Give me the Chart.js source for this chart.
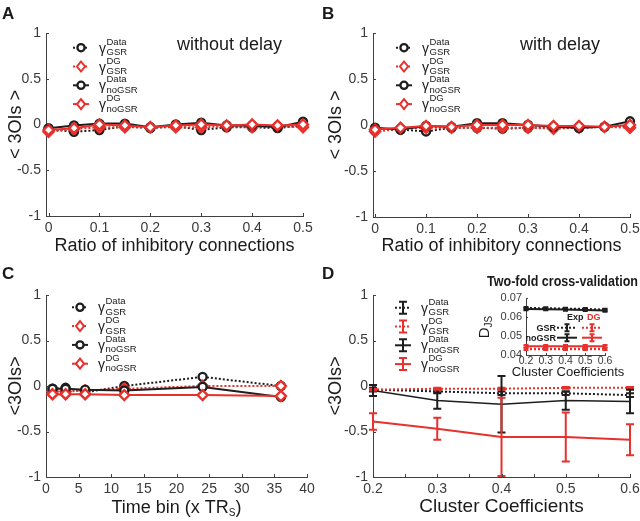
<!DOCTYPE html>
<html>
<head>
<meta charset="utf-8">
<script src="https://cdn.jsdelivr.net/npm/chart.js@4/dist/chart.umd.min.js"></script>
<style>
    body { margin: 0; background: #fff; width: 640px; height: 521px; overflow: hidden; position: relative; }
    .panel { position: absolute; }
    canvas { display: block; }
</style>
</head>
<body>
<div class="panel" style="left:0;top:0"><canvas id="chartA" width="320" height="260"></canvas></div>
<div class="panel" style="left:320px;top:0"><canvas id="chartB" width="340" height="260"></canvas></div>
<div class="panel" style="left:0;top:260px"><canvas id="chartC" width="320" height="261"></canvas></div>
<div class="panel" style="left:320px;top:260px"><canvas id="chartD" width="340" height="261"></canvas></div>
<div class="panel" style="left:470px;top:266px"><canvas id="chartInset" width="170" height="116"></canvas></div>

<script>
// --- Data ---
const ratioX     = [0, 0.05, 0.1, 0.15, 0.2, 0.25, 0.3, 0.35, 0.4, 0.45, 0.5];
const ratioTicks = [0, 0.1, 0.2, 0.3, 0.4, 0.5];
const yTicks     = [-1, -0.5, 0, 0.5, 1];

// A: without delay
const aGsrData   = [-0.05, -0.08, -0.06, -0.02, -0.04, -0.02, -0.06, -0.03, -0.03, -0.04, -0.01];
const aGsrDG     = [-0.08, -0.05, -0.03, -0.03, -0.03, -0.03, -0.03, -0.02, -0.03, -0.02, -0.03];
const aNoGsrData = [-0.04, -0.01, 0.01, 0.01, -0.03, 0.0, 0.02, -0.01, -0.01, -0.03, 0.03];
const aNoGsrDG   = [-0.06, -0.04, 0.0, -0.01, -0.03, -0.01, 0.0, -0.01, 0.0, -0.01, 0.0];

// B: with delay
const bGsrData   = [-0.06, -0.05, -0.07, -0.03, -0.03, -0.04, -0.03, -0.03, -0.03, -0.02, -0.01];
const bGsrDG     = [-0.07, -0.04, -0.03, -0.03, -0.03, -0.03, -0.03, -0.04, -0.03, -0.02, -0.03];
const bNoGsrData = [-0.03, -0.05, -0.01, -0.02, 0.02, 0.02, 0.0, -0.02, -0.03, -0.02, 0.04];
const bNoGsrDG   = [-0.05, -0.03, -0.01, -0.02, 0.0, 0.0, 0.0, -0.01, -0.01, -0.02, 0.0];

// C: time bins
const timeBins   = [1, 3, 6, 12, 24, 36];
const timeTicks  = [0, 5, 10, 15, 20, 25, 30, 35, 40];
const cGsrData   = [-0.03, -0.02, -0.07, 0.0, 0.1, 0.0];
const cGsrDG     = [-0.06, -0.06, -0.05, -0.03, 0.0, 0.0];
const cNoGsrData = [-0.03, -0.03, -0.04, -0.05, -0.01, -0.12];
const cNoGsrDG   = [-0.09, -0.09, -0.09, -0.1, -0.1, -0.11];

// D: cluster coefficients (mean and error)
const clusterX      = [0.2, 0.3, 0.4, 0.5, 0.6];
const clusterMinor  = [0.25, 0.35, 0.45, 0.55];
const dGsrData      = [-0.04, -0.06, -0.08, -0.08, -0.1];
const dGsrDataErr   = [0.02, 0.02, 0.02, 0.02, 0.02];
const dGsrDG        = [-0.04, -0.03, -0.03, -0.02, -0.02];
const dGsrDGErr     = [0.01, 0.01, 0.01, 0.01, 0.01];
const dNoGsrData    = [-0.05, -0.16, -0.2, -0.16, -0.17];
const dNoGsrDataErr = [0.06, 0.09, 0.31, 0.1, 0.13];
const dNoGsrDG      = [-0.39, -0.47, -0.56, -0.56, -0.59];
const dNoGsrDGErr   = [0.09, 0.12, 0.43, 0.27, 0.17];

// D inset: two-fold cross-validation
const insetYTicks   = [0.04, 0.05, 0.06, 0.07];
const insetGsrExp   = [0.0646, 0.0645, 0.0643, 0.0641, 0.0638];
const insetNoGsrExp = [0.0642, 0.0641, 0.0639, 0.0637, 0.0634];
const insetGsrDG    = [0.0432, 0.0432, 0.0432, 0.0432, 0.0432];
const insetNoGsrDG  = [0.0446, 0.0446, 0.0446, 0.0446, 0.0446];
const insetErr      = [0.0006, 0.0006, 0.0006, 0.0006, 0.0006];

const gammaItems = [
    { color: 'black', dotted: true,  marker: 'circle',  sup: 'Data', sub: 'GSR' },
    { color: 'red',   dotted: true,  marker: 'diamond', sup: 'DG',   sub: 'GSR' },
    { color: 'black', dotted: false, marker: 'circle',  sup: 'Data', sub: 'noGSR' },
    { color: 'red',   dotted: false, marker: 'diamond', sup: 'DG',   sub: 'noGSR' }
];

// --- Styles ---
const FONT  = "'Liberation Sans', Arial, Helvetica, sans-serif";
const RED   = '#e8302c';
const BLACK = '#1e1e1e';
const AXIS  = '#404040';
const TICK  = '#3a3a3a';
const TEXT  = '#1a1a1a';
const COLORS = { red: RED, black: BLACK };

// --- Helpers ---
function drawMarker(ctx, kind, x, y, color, h, c) {
    ctx.save();
    ctx.strokeStyle = color;
    ctx.lineWidth = 2;
    ctx.fillStyle = '#fff';
    ctx.setLineDash([]);
    ctx.beginPath();
    if (kind === 'circle') {
        ctx.lineWidth = 2.3;
        ctx.arc(x, y, 3.6, 0, Math.PI * 2);
        ctx.fill();
    } else if (kind === 'diamond') {
        ctx.moveTo(x, y - 5); ctx.lineTo(x + 4, y); ctx.lineTo(x, y + 5); ctx.lineTo(x - 4, y);
        ctx.closePath();
        ctx.fill();
    } else {
        ctx.moveTo(x, y - h); ctx.lineTo(x, y + h);
        ctx.moveTo(x - c, y - h); ctx.lineTo(x + c, y - h);
        ctx.moveTo(x - c, y + h); ctx.lineTo(x + c, y + h);
    }
    ctx.stroke();
    ctx.restore();
}

function series(xs, ys, o) {
    return {
        data: xs.map((x, i) => ({ x, y: ys[i] })),
        borderColor: o.color,
        borderWidth: o.width || 2,
        borderDash: o.dotted ? [2, 2] : [],
        pointStyle: o.marker === 'diamond' ? 'rectRot' : 'circle',
        pointRadius: o.marker ? (o.marker === 'diamond' ? 5 : 4) : 0,
        pointBorderWidth: 2.4,
        pointBorderColor: o.color,
        pointBackgroundColor: '#fff',
        errors: o.errors,
        capHalf: o.capHalf || 4,
        order: o.order,
        tension: 0,
        fill: false,
        clip: false
    };
}

function fourSeries(xs, gsrData, gsrDG, noGsrData, noGsrDG) {
    return [
        series(xs, gsrData,   { color: BLACK, dotted: true,  marker: 'circle',  order: 3 }),
        series(xs, gsrDG,     { color: RED,   dotted: true,  marker: 'diamond', order: 2 }),
        series(xs, noGsrData, { color: BLACK, dotted: false, marker: 'circle',  order: 1 }),
        series(xs, noGsrDG,   { color: RED,   dotted: false, marker: 'diamond', order: 0 })
    ];
}

function xAxis(min, max, ticks, title, height, fontSize, titleSize, pad) {
    return {
        type: 'linear', min, max,
        afterBuildTicks: s => { s.ticks = ticks.map(v => ({ value: v })); },
        grid: { display: false, drawTicks: false },
        border: { display: true, color: AXIS, width: 1 },
        ticks: {
            color: TICK, padding: pad, autoSkip: false, maxRotation: 0,
            font: { family: FONT, size: fontSize },
            callback: v => String(v)
        },
        title: {
            display: !!title, text: title, color: TEXT,
            font: { family: FONT, size: titleSize }, padding: { top: 0, bottom: 3 }
        },
        afterFit: s => { s.height = height; }
    };
}

function yAxis(title, width) {
    return {
        min: -1, max: 1,
        afterBuildTicks: s => { s.ticks = yTicks.map(v => ({ value: v })); },
        grid: { display: false, drawTicks: false },
        border: { display: true, color: AXIS, width: 1 },
        ticks: { color: TICK, padding: 5, font: { family: FONT, size: 14 }, callback: v => String(v) },
        title: {
            display: true, text: title, color: TEXT,
            font: { family: FONT, size: 18 }, padding: { top: 5, bottom: 0 }
        },
        afterFit: s => { s.width = width; }
    };
}

// --- Plugins ---
const errorBars = {
    id: 'errorBars',
    afterDatasetsDraw(chart) {
        const ctx = chart.ctx;
        const xs = chart.scales.x, ys = chart.scales.y;
        chart.data.datasets.forEach(ds => {
            if (!ds.errors) return;
            ds.data.forEach((p, j) => {
                const px = xs.getPixelForValue(p.x);
                const py = ys.getPixelForValue(p.y);
                const top = ys.getPixelForValue(p.y + ds.errors[j]);
                drawMarker(ctx, 'err', px, py, ds.borderColor, py - top, ds.capHalf);
            });
        });
    }
};

const inTicks = {
    id: 'inTicks',
    afterDraw(chart, args, o) {
        const { ctx, chartArea: a, scales } = chart;
        const len = o.len || 3;
        ctx.save();
        ctx.strokeStyle = AXIS;
        ctx.lineWidth = 1;
        ctx.beginPath();
        const xv = scales.x.ticks.map(t => t.value).concat(o.xMinor || []);
        xv.forEach(v => {
            const px = Math.round(scales.x.getPixelForValue(v)) + 0.5;
            ctx.moveTo(px, a.bottom); ctx.lineTo(px, a.bottom - len);
        });
        scales.y.ticks.forEach(t => {
            const py = Math.round(scales.y.getPixelForValue(t.value)) + 0.5;
            ctx.moveTo(a.left, py); ctx.lineTo(a.left + len, py);
        });
        ctx.stroke();
        ctx.restore();
    }
};

const gammaLegend = {
    id: 'gammaLegend',
    afterDraw(chart, args, o) {
        if (!o.items) return;
        const ctx = chart.ctx;
        o.items.forEach((it, i) => {
            const y = o.y + i * o.gap;
            const color = COLORS[it.color];
            ctx.save();
            ctx.strokeStyle = color;
            ctx.lineWidth = 2;
            ctx.setLineDash(it.dotted ? [2, 2] : []);
            ctx.beginPath(); ctx.moveTo(o.x, y); ctx.lineTo(o.x + 16, y); ctx.stroke();
            drawMarker(ctx, o.marker || it.marker, o.x + 8, y, color, 6, 4);
            ctx.fillStyle = TEXT;
            ctx.textAlign = 'left';
            ctx.font = '14px ' + FONT;
            ctx.fillText('γ', o.x + 26, y + 5);
            ctx.font = '9.5px ' + FONT;
            ctx.fillText(it.sup, o.x + 33.5, y - 3);
            ctx.fillText(it.sub, o.x + 33.5, y + 7.5);
            ctx.restore();
        });
    }
};

const annotate = {
    id: 'annotate',
    afterDraw(chart, args, o) {
        const ctx = chart.ctx;
        (o.items || []).forEach(it => {
            const parts = it.parts || [{ text: it.text, font: it.font, color: it.color }];
            ctx.save();
            ctx.translate(it.x, it.y);
            if (it.rotate) ctx.rotate(it.rotate);
            ctx.textBaseline = 'alphabetic';
            ctx.textAlign = 'left';
            let w = 0;
            parts.forEach(p => { ctx.font = p.font; w += ctx.measureText(p.text).width; });
            if (it.maxWidth && w > it.maxWidth) {
                ctx.scale(it.maxWidth / w, 1);
            }
            let x = it.align === 'center' ? -w / 2 : it.align === 'right' ? -w : 0;
            parts.forEach(p => {
                ctx.font = p.font;
                ctx.fillStyle = p.color || TEXT;
                ctx.fillText(p.text, x, p.dy || 0);
                x += ctx.measureText(p.text).width;
            });
            ctx.restore();
        });
    }
};

const insetLegend = {
    id: 'insetLegend',
    afterDraw(chart, args, o) {
        if (!o.rows) return;
        const ctx = chart.ctx;
        o.rows.forEach(r => {
            [[r.x1, BLACK], [r.x2, RED]].forEach(([x0, color]) => {
                ctx.save();
                ctx.strokeStyle = color;
                ctx.lineWidth = 2;
                ctx.setLineDash(r.dotted ? [2, 2] : []);
                ctx.beginPath(); ctx.moveTo(x0, r.y); ctx.lineTo(x0 + 20, r.y); ctx.stroke();
                ctx.restore();
                drawMarker(ctx, 'err', x0 + 10, r.y, color, 3.5, 2.5);
            });
        });
    }
};

function panelChart(id, cfg) {
    return new Chart(document.getElementById(id), {
        type: 'line',
        data: { datasets: cfg.datasets },
        options: {
            responsive: false,
            animation: false,
            events: [],
            layout: { padding: cfg.padding },
            plugins: {
                legend: { display: false },
                tooltip: { enabled: false },
                gammaLegend: cfg.legend || {},
                annotate: { items: cfg.texts || [] },
                inTicks: cfg.ticks || {},
                insetLegend: cfg.insetLegend || {}
            },
            scales: { x: cfg.x, y: cfg.y }
        },
        plugins: [errorBars, inTicks, gammaLegend, annotate, insetLegend]
    });
}

const letterFont = 'bold 17px ' + FONT;

// --- Panel A ---
panelChart('chartA', {
    datasets: fourSeries(ratioX, aGsrData, aGsrDG, aNoGsrData, aNoGsrDG),
    padding: { left: 0, top: 33, right: 17, bottom: 0 },
    x: xAxis(-0.005, 0.5, ratioTicks, 'Ratio of inhibitory connections', 44, 14, 18, 4),
    y: yAxis('< 3OIs >', 46),
    legend: { x: 73, y: 47.7, gap: 18.8, items: gammaItems },
    texts: [
        { text: 'A', font: letterFont, x: 2, y: 19 },
        { text: 'without delay', font: '18px ' + FONT, x: 177, y: 50 }
    ]
});

// --- Panel B (canvas extends past the page edge so the last label keeps its spot) ---
panelChart('chartB', {
    datasets: fourSeries(ratioX, bGsrData, bGsrDG, bNoGsrData, bNoGsrDG),
    padding: { left: 0, top: 33, right: 30, bottom: 0 },
    x: xAxis(-0.004, 0.5, ratioTicks, 'Ratio of inhibitory connections', 43, 14, 18, 4),
    y: yAxis('< 3OIs >', 53),
    legend: { x: 76, y: 47.7, gap: 18.8, items: gammaItems },
    texts: [
        { text: 'B', font: letterFont, x: 2, y: 19 },
        { text: 'with delay', font: '18px ' + FONT, x: 200, y: 50 }
    ]
});

// --- Panel C ---
panelChart('chartC', {
    datasets: fourSeries(timeBins, cGsrData, cGsrDG, cNoGsrData, cNoGsrDG),
    padding: { left: 0, top: 35, right: 13, bottom: 0 },
    x: xAxis(0, 40, timeTicks, '', 44, 14, 18, 4),
    y: yAxis('<3OIs>', 46),
    legend: { x: 72, y: 47.3, gap: 18.8, items: gammaItems },
    texts: [
        { text: 'C', font: letterFont, x: 2, y: 19 },
        {
            x: 176.5, y: 253, align: 'center',
            parts: [
                { text: 'Time bin (x TR', font: '18px ' + FONT },
                { text: 'S', font: '10px ' + FONT, dy: 3 },
                { text: ')', font: '18px ' + FONT }
            ]
        }
    ]
});

// --- Panel D ---
panelChart('chartD', {
    datasets: [
        series(clusterX, dGsrData,   { color: BLACK, dotted: true,  width: 2,   errors: dGsrDataErr,   order: 3 }),
        series(clusterX, dGsrDG,     { color: RED,   dotted: true,  width: 2,   errors: dGsrDGErr,     order: 2 }),
        series(clusterX, dNoGsrData, { color: BLACK, dotted: false, width: 1.6, errors: dNoGsrDataErr, order: 1 }),
        series(clusterX, dNoGsrDG,   { color: RED,   dotted: false, width: 2,   errors: dNoGsrDGErr,   order: 0 })
    ],
    padding: { left: 0, top: 35, right: 30, bottom: 0 },
    x: xAxis(0.2, 0.6, clusterX, 'Cluster Coefficients', 44, 14, 19, 4),
    y: yAxis('<3OIs>', 53),
    ticks: { xMinor: clusterMinor },
    legend: { x: 75, y: 47.7, gap: 18.8, items: gammaItems, marker: 'err' },
    texts: [
        { text: 'D', font: letterFont, x: 2, y: 19 }
    ]
});

// --- Inset ---
panelChart('chartInset', {
    datasets: [
        series(clusterX, insetGsrExp,   { color: BLACK, dotted: true,  width: 2.5, errors: insetErr, capHalf: 2.5, order: 3 }),
        series(clusterX, insetNoGsrExp, { color: BLACK, dotted: false, width: 2,   errors: insetErr, capHalf: 2.5, order: 2 }),
        series(clusterX, insetGsrDG,    { color: RED,   dotted: true,  width: 2.5, errors: insetErr, capHalf: 2.5, order: 1 }),
        series(clusterX, insetNoGsrDG,  { color: RED,   dotted: false, width: 2,   errors: insetErr, capHalf: 2.5, order: 0 })
    ],
    padding: { left: 0, top: 32, right: 35, bottom: 0 },
    x: xAxis(0.2, 0.6, clusterX, '', 27, 10.5, 13, 0),
    y: {
        min: 0.04, max: 0.07,
        afterBuildTicks: s => { s.ticks = insetYTicks.map(v => ({ value: v })); },
        grid: { display: false, drawTicks: false },
        border: { display: true, color: AXIS, width: 1 },
        ticks: { color: TICK, padding: 4, font: { family: FONT, size: 11 }, callback: v => v.toFixed(2) },
        afterFit: s => { s.width = 56; }
    },
    ticks: { len: 2 },
    insetLegend: {
        rows: [
            { y: 61.7, x1: 87, x2: 112, dotted: true },
            { y: 71.7, x1: 87, x2: 112, dotted: false }
        ]
    },
    texts: [
        { text: 'Two-fold cross-validation', font: 'bold 15px ' + FONT, x: 92.5, y: 20, align: 'center', maxWidth: 151 },
        { text: 'Cluster Coefficients', font: '13px ' + FONT, x: 98, y: 110, align: 'center' },
        {
            x: 19, y: 61, align: 'center', rotate: -Math.PI / 2,
            parts: [
                { text: 'D', font: '15px ' + FONT },
                { text: 'JS', font: '10px ' + FONT, dy: 3 }
            ]
        },
        { text: 'Exp', font: 'bold 9px ' + FONT, x: 97, y: 54 },
        { text: 'DG', font: 'bold 9px ' + FONT, color: RED, x: 117, y: 54 },
        { text: 'GSR', font: 'bold 9px ' + FONT, x: 86, y: 64.5, align: 'right' },
        { text: 'noGSR', font: 'bold 9px ' + FONT, x: 86, y: 75, align: 'right' }
    ]
});
</script>
</body>
</html>
